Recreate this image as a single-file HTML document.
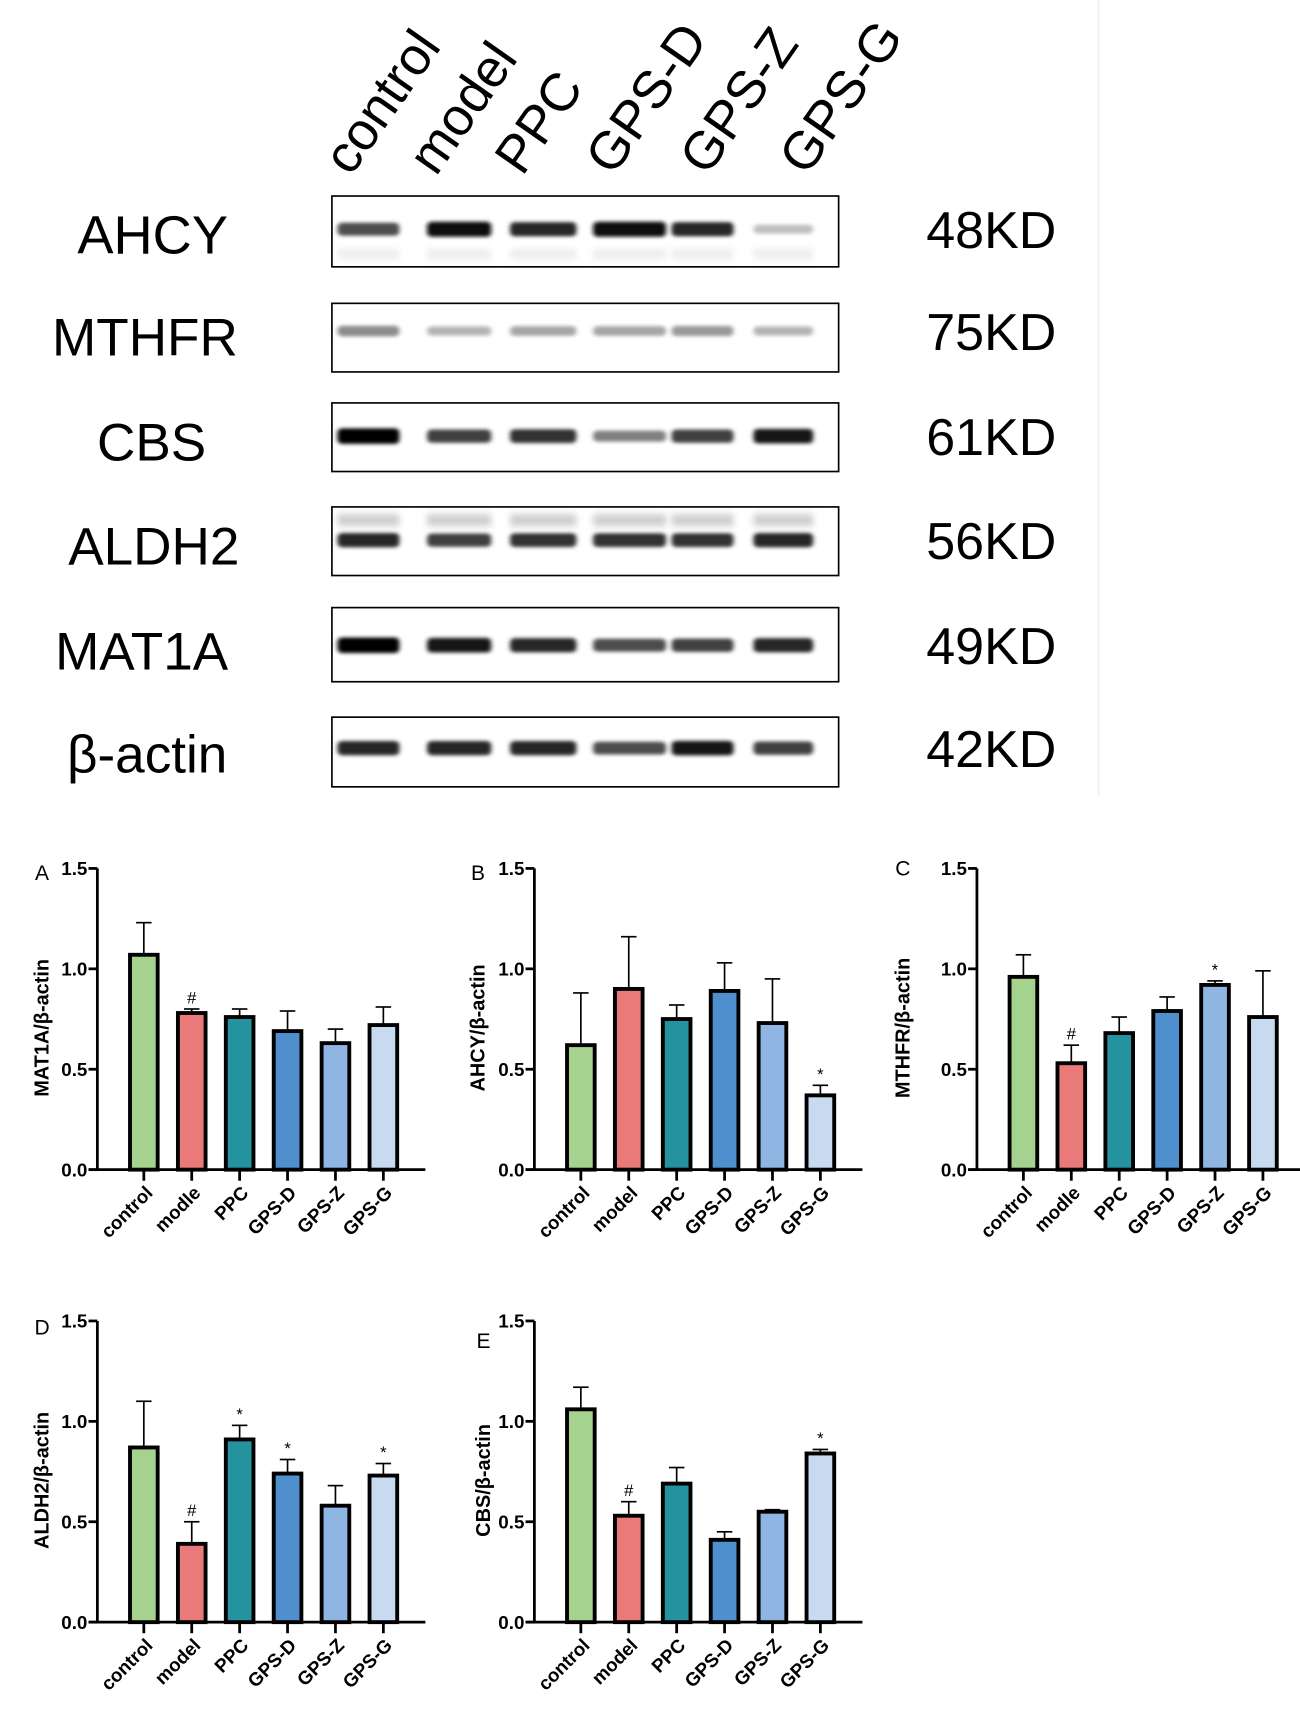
<!DOCTYPE html>
<html><head><meta charset="utf-8"><style>
html,body{margin:0;padding:0;background:#fff;}
svg{display:block;}
text{font-family:"Liberation Sans",Arial,sans-serif;}
</style></head><body>
<svg id="fig" width="1300" height="1733" viewBox="0 0 1175 1566" xmlns="http://www.w3.org/2000/svg">
<defs>
<filter id="blur" x="-20%" y="-200%" width="140%" height="500%"><feGaussianBlur stdDeviation="2.2 1.6"/></filter>
<filter id="blur2" x="-20%" y="-200%" width="140%" height="500%"><feGaussianBlur stdDeviation="3 4"/></filter>
</defs>
<line x1="993" y1="0" x2="993" y2="720" stroke="#eee" stroke-width="1.5"/>
<g id="wb"></g>
<g id="charts"></g>
</svg>
<script>
const NS="http://www.w3.org/2000/svg";
function mk(tag,attrs,parent,txt){const e=document.createElementNS(NS,tag);for(const k in attrs)e.setAttribute(k,attrs[k]);if(txt!==undefined)e.textContent=txt;parent.appendChild(e);return e;}

// ---------- Western blot ----------
const laneNames=["control","model","PPC","GPS-D","GPS-Z","GPS-G"];
const proteins=["AHCY","MTHFR","CBS","ALDH2","MAT1A","β-actin"];
const kd=["48KD","75KD","61KD","56KD","49KD","42KD"];
const bandAHCY=[0.7,0.95,0.85,0.95,0.85,0.25];
const bandMTHFR=[0.45,0.3,0.35,0.35,0.4,0.3];
const bandCBS=[1.0,0.75,0.8,0.5,0.75,0.9];
const bandALDH2=[0.85,0.75,0.8,0.8,0.8,0.85];
const bandMAT1A=[1.0,0.9,0.85,0.7,0.75,0.85];
const bandActin=[0.85,0.85,0.85,0.7,0.9,0.75];
const bands=[bandAHCY,bandMTHFR,bandCBS,bandALDH2,bandMAT1A,bandActin];

const wb=document.getElementById('wb');
const boxTop=[177,274,364,458,549,648], boxH=[64,62,62,62,67,63];
const bandY=[207,299,394,488,583,676];
const leftX=[138,131,137,139,128,133], leftSize=[49,48,48,48,48,48];
const lanesX=[333,415,491,569,635,708], laneW=[56,58,60,66,56,54];
const labelLaneX=[335,412,490,572,657,747];
laneNames.forEach((n,i)=>{
  const lx=labelLaneX[i]-18;
  const t=mk('text',{x:lx,y:160,'font-size':48,transform:`rotate(-55 ${lx} 160)`,fill:'#000'},wb,n);
  
  
});
proteins.forEach((p,r)=>{
  const g=mk('g',{},wb);
  
  
  const lt=mk('text',{x:leftX[r],y:bandY[r]+22,'font-size':leftSize[r],'text-anchor':'middle'},g,p);
  
  
  const kt=mk('text',{x:896,y:bandY[r]+17,'font-size':47,'text-anchor':'middle'},g,kd[r]);
  
  
  bands[r].forEach((v,i)=>{
    const c=Math.round(255*(1-v));
    const b=mk('rect',{x:lanesX[i]-laneW[i]/2,y:bandY[r]-(3+4*v),width:laneW[i],height:6+8*v,rx:4,fill:`rgb(${c},${c},${c})`,filter:'url(#blur)'},g);
    
    
    if(r===3){mk('rect',{x:lanesX[i]-laneW[i]/2,y:bandY[r]-22,width:laneW[i],height:8,fill:'#bbb',filter:'url(#blur2)'},g);}
    if(r===0){mk('rect',{x:lanesX[i]-laneW[i]/2,y:bandY[r]+20,width:laneW[i],height:5,fill:'#ddd',filter:'url(#blur2)'},g);}
  });
  const box=mk('rect',{x:300,y:boxTop[r],width:458,height:boxH[r],fill:'none',stroke:'#000','stroke-width':1.5},g);
  
  
});

// ---------- Bar charts ----------
const groupsA=["control","modle","PPC","GPS-D","GPS-Z","GPS-G"];
const groupsB=["control","model","PPC","GPS-D","GPS-Z","GPS-G"];
const ticks=[0,0.5,1.0,1.5];
const tickLabels=["0.0","0.5","1.0","1.5"];
const colors=["#a5d28f","#ea7a7a","#25929f","#4f8fcd","#8fb5e2","#c8daf0"];
const valA=[1.07,0.78,0.76,0.69,0.63,0.72];
const errA=[1.23,0.80,0.80,0.79,0.70,0.81];
const sigA=["","#","","","",""];
const valB=[0.62,0.90,0.75,0.89,0.73,0.37];
const errB=[0.88,1.16,0.82,1.03,0.95,0.42];
const sigB=["","","","","","*"];
const valC=[0.96,0.53,0.68,0.79,0.92,0.76];
const errC=[1.07,0.62,0.76,0.86,0.94,0.99];
const sigC=["","#","","","*",""];
const valD=[0.87,0.39,0.91,0.74,0.58,0.73];
const errD=[1.10,0.50,0.98,0.81,0.68,0.79];
const sigD=["","#","*","*","","*"];
const valE=[1.06,0.53,0.69,0.41,0.55,0.84];
const errE=[1.17,0.60,0.77,0.45,0.56,0.86];
const sigE=["","#","","","","*"];

const panels=[
 {id:'A',ax:88,y0:1057,title:'MAT1A/β-actin',groups:groupsA,vals:valA,errs:errA,sig:sigA,lx:38,ly:795},
 {id:'B',ax:483,y0:1057,title:'AHCY/β-actin',groups:groupsB,vals:valB,errs:errB,sig:sigB,lx:432,ly:795},
 {id:'C',ax:883,y0:1057,title:'MTHFR/β-actin',groups:groupsA,vals:valC,errs:errC,sig:sigC,lx:816,ly:791},
 {id:'D',ax:88,y0:1466,title:'ALDH2/β-actin',groups:groupsB,vals:valD,errs:errD,sig:sigD,lx:38,ly:1206},
 {id:'E',ax:483,y0:1466,title:'CBS/β-actin',groups:groupsB,vals:valE,errs:errE,sig:sigE,lx:437,ly:1218},
];
const charts=document.getElementById('charts');
const pxPerUnit=181.5, step=43.3, bw=25;
panels.forEach(P=>{
  const g=mk('g',{},charts);
  
  
  const y=v=>P.y0-v*pxPerUnit;
  const x=i=>P.ax+42+i*step;
  const pl=mk('text',{x:P.lx,y:P.ly,'font-size':19,'text-anchor':'middle'},g,P.id);
  
  
  const ya=mk('line',{x1:P.ax,y1:y(1.5),x2:P.ax,y2:P.y0,stroke:'#000','stroke-width':2.5},g);
  
  
  const xa=mk('line',{x1:P.ax-8,y1:P.y0,x2:x(5)+38,y2:P.y0,stroke:'#000','stroke-width':2.5},g);
  
  
  ticks.forEach((t,k)=>{
    mk('line',{x1:P.ax-8,y1:y(t),x2:P.ax,y2:y(t),stroke:'#000','stroke-width':2.5},g);
    const tl=mk('text',{x:P.ax-9,y:y(t)+6,'font-size':17,'font-weight':'bold','text-anchor':'end'},g,tickLabels[k]);
    
    
  });
  const ty=(y(1.5)+P.y0)/2+8;
  const yt=mk('text',{x:P.lx+6,y:ty,'font-size':18,'font-weight':'bold','text-anchor':'middle',transform:`rotate(-90 ${P.lx+6} ${ty})`},g,P.title);
  
  
  P.vals.forEach((v,i)=>{
    const cx=x(i);
    mk('line',{x1:cx,y1:y(v),x2:cx,y2:y(P.errs[i]),stroke:'#000','stroke-width':1.5},g);
    mk('line',{x1:cx-7,y1:y(P.errs[i]),x2:cx+7,y2:y(P.errs[i]),stroke:'#000','stroke-width':1.5},g);
    const bar=mk('rect',{x:cx-bw/2,y:y(v),width:bw,height:v*pxPerUnit,fill:colors[i],stroke:'#000','stroke-width':3.5},g);
    
    
    mk('line',{x1:cx,y1:P.y0,x2:cx,y2:P.y0+10,stroke:'#000','stroke-width':2.5},g);
    if(P.sig[i]){
      const s=mk('text',{x:cx,y:y(P.errs[i])-5,'font-size':15,'text-anchor':'middle'},g,P.sig[i]);
      
      
    }
    const lx=cx+9, ly=P.y0+22;
    const xl=mk('text',{x:lx,y:ly,'font-size':17,'font-weight':'bold','text-anchor':'end',transform:`rotate(-45 ${lx} ${ly})`},g,P.groups[i]);
    
    
  });
});
</script>
</body></html>
